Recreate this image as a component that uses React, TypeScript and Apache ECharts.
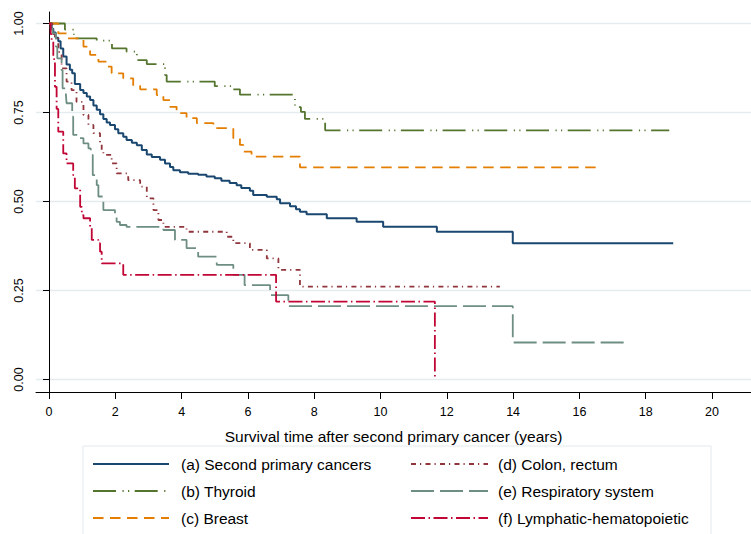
import React, { useEffect, useRef } from "react";
import * as echarts from "echarts";

const FONT = "'Liberation Sans', Arial, Helvetica, sans-serif";

const xTicks = [0, 2, 4, 6, 8, 10, 12, 14, 16, 18, 20];
const yTicks = [0, 0.25, 0.5, 0.75, 1];
const xTitle = "Survival time after second primary cancer (years)";

const seriesNames = [
  "(a) Second primary cancers",
  "(b) Thyroid",
  "(c) Breast",
  "(d) Colon, rectum",
  "(e) Respiratory system",
  "(f) Lymphatic-hematopoietic",
];

const secondPrimary: [number, number][] = [
  [0, 1], [0.08, 0.985], [0.13, 0.975], [0.2, 0.96], [0.28, 0.95], [0.35, 0.93], [0.43, 0.907],
  [0.53, 0.885], [0.63, 0.87], [0.7, 0.86], [0.78, 0.83], [0.94, 0.813], [1.04, 0.805],
  [1.14, 0.795], [1.24, 0.785], [1.34, 0.77], [1.44, 0.758], [1.54, 0.745], [1.64, 0.732],
  [1.74, 0.722], [1.84, 0.715], [1.99, 0.703], [2.09, 0.692], [2.24, 0.682], [2.34, 0.673],
  [2.5, 0.665], [2.65, 0.658], [2.8, 0.645], [2.95, 0.632], [3.1, 0.625], [3.35, 0.617],
  [3.5, 0.607], [3.65, 0.597], [3.75, 0.588], [3.95, 0.582], [4.2, 0.578], [4.5, 0.575],
  [4.75, 0.57], [5.0, 0.565], [5.2, 0.558], [5.45, 0.552], [5.66, 0.546], [5.8, 0.538],
  [6.06, 0.53], [6.16, 0.518], [6.57, 0.513], [6.87, 0.506], [6.97, 0.495], [7.27, 0.487],
  [7.45, 0.478], [7.57, 0.471], [7.77, 0.464], [8.38, 0.453], [9.28, 0.443], [10.08, 0.429],
  [11.7, 0.415], [13.99, 0.383], [18.83, 0.383],
];

const thyroid: [number, number][] = [
  [0, 1], [0.48, 0.983], [0.75, 0.958], [1.44, 0.952], [1.9, 0.93], [2.34, 0.921],
  [2.65, 0.897], [2.95, 0.886], [3.5, 0.855], [3.55, 0.837], [5.0, 0.824], [5.56, 0.815],
  [5.76, 0.8], [7.42, 0.765], [7.6, 0.752], [7.72, 0.732], [8.33, 0.7], [18.71, 0.7],
];

const breast: [number, number][] = [
  [0, 1], [0.28, 0.972], [0.53, 0.958], [1.04, 0.935], [1.24, 0.912], [1.49, 0.893],
  [1.74, 0.879], [1.89, 0.86], [2.24, 0.846], [2.54, 0.825], [2.75, 0.815], [3.25, 0.799],
  [3.45, 0.785], [3.65, 0.766], [3.85, 0.748], [4.15, 0.734], [4.46, 0.72], [4.96, 0.706],
  [5.56, 0.678], [5.76, 0.659], [5.86, 0.64], [6.11, 0.626], [7.57, 0.596], [16.64, 0.596],
];

const colonRectum: [number, number][] = [
  [0, 1], [0.1, 0.97], [0.18, 0.958], [0.28, 0.92], [0.38, 0.874], [0.53, 0.837],
  [0.68, 0.813], [0.83, 0.78], [1.04, 0.743], [1.19, 0.715], [1.34, 0.692], [1.54, 0.663],
  [1.59, 0.64], [1.64, 0.631], [1.89, 0.607], [2.04, 0.579], [2.39, 0.56], [2.75, 0.542],
  [2.95, 0.509], [3.15, 0.476], [3.3, 0.448], [3.45, 0.429], [4.15, 0.415], [5.36, 0.401],
  [5.56, 0.383], [6.06, 0.364], [6.57, 0.34], [6.92, 0.308], [7.57, 0.261], [13.6, 0.261],
];

const respiratory: [number, number][] = [
  [0, 1], [0.05, 0.985], [0.11, 0.972], [0.21, 0.935], [0.25, 0.902], [0.38, 0.869],
  [0.41, 0.818], [0.51, 0.799], [0.53, 0.776], [0.7, 0.738], [0.73, 0.687], [0.88, 0.678],
  [1.04, 0.663], [1.19, 0.649], [1.26, 0.631], [1.32, 0.574], [1.44, 0.546], [1.49, 0.514],
  [1.64, 0.476], [1.99, 0.457], [2.04, 0.443], [2.14, 0.434], [2.34, 0.429], [3.45, 0.42],
  [3.8, 0.392], [4.15, 0.369], [4.5, 0.345], [5.06, 0.322], [5.56, 0.294], [5.9, 0.265],
  [6.67, 0.237], [7.22, 0.206], [13.99, 0.104], [17.48, 0.104],
];

const lymphatic: [number, number][] = [
  [0, 1], [0.05, 0.97], [0.08, 0.95], [0.13, 0.9], [0.18, 0.822], [0.23, 0.76], [0.28, 0.696],
  [0.43, 0.635], [0.53, 0.607], [0.73, 0.574], [0.78, 0.537], [0.94, 0.485], [0.99, 0.462],
  [1.04, 0.453], [1.24, 0.425], [1.29, 0.392], [1.49, 0.383], [1.54, 0.359], [1.59, 0.326],
  [2.24, 0.294], [6.85, 0.219], [11.64, 0],
];

const seriesData = [secondPrimary, thyroid, breast, colonRectum, respiratory, lymphatic];
const colors = ["#1a476f", "#55752f", "#e37e00", "#90353b", "#6e8e84", "#c10534"];
const dashes: (string | number[])[] = [
  "solid",
  [23, 6.5, 1.2, 4.3, 1.2, 5.5],
  [10.5, 6.5],
  [5, 4, 1.2, 4.3],
  [23, 6],
  [14, 3.5, 1.5, 3.5],
];
const widths = [2, 1.8, 1.8, 1.8, 1.8, 1.8];

export default function App() {
  const ref = useRef<HTMLDivElement>(null);
  useEffect(() => {
    const chart = echarts.init(ref.current!, null, { renderer: "svg" });
    const legendText = {
      fontSize: 15.5,
      lineHeight: 16,
      color: "#000",
      fontFamily: FONT,
    };
    const legendBase = {
      orient: "vertical",
      top: 456,
      height: 80,
      padding: 0,
      itemHeight: 10,
      itemGap: 11,
      selectedMode: false,
      itemStyle: { opacity: 0 },
    };
    chart.setOption({
      animation: false,
      backgroundColor: "#fff",
      textStyle: { fontFamily: FONT },
      grid: { left: 36, right: 0, top: 12, bottom: 142, containLabel: false },
      xAxis: {
        type: "value",
        min: -0.392,
        max: 21.176,
        axisLine: { show: true, onZero: false, lineStyle: { color: "#000", width: 1 } },
        axisTick: { show: true, customValues: xTicks, length: 7, lineStyle: { color: "#000" } },
        axisLabel: {
          customValues: xTicks,
          margin: 13,
          verticalAlign: "top",
          fontSize: 12.5,
          color: "#000",
          fontFamily: FONT,
        },
        splitLine: { show: false },
        name: xTitle,
        nameLocation: "middle",
        nameGap: 36,
        nameTextStyle: { fontSize: 15.5, color: "#000", fontFamily: FONT },
      },
      yAxis: {
        type: "value",
        min: -0.0351,
        max: 1.0323,
        axisLine: { show: true, lineStyle: { color: "#000", width: 1 } },
        axisTick: { show: true, customValues: yTicks, length: 6, lineStyle: { color: "#000" } },
        axisLabel: {
          customValues: yTicks,
          rotate: 90,
          margin: 11,
          fontSize: 12.5,
          color: "#000",
          fontFamily: FONT,
          formatter: (v: number) => v.toFixed(2),
        },
        splitLine: { show: true, lineStyle: { color: "#e5ecf0", width: 1.3 } },
      },
      graphic: [
        {
          type: "rect",
          shape: { x: 83, y: 446, width: 628, height: 110 },
          style: { fill: "#fff", stroke: "#e3eaee", lineWidth: 1 },
          z: 1,
        },
      ],
      legend: [
        {
          ...legendBase,
          data: seriesNames.slice(0, 3),
          left: 92,
          itemWidth: 76,
          textStyle: { ...legendText, padding: [0, 0, 0, 7] },
        },
        {
          ...legendBase,
          data: seriesNames.slice(3),
          left: 410,
          itemWidth: 77,
          textStyle: { ...legendText, padding: [0, 0, 0, 5] },
        },
      ],
      series: seriesData.map((d, i) => ({
        type: "line",
        name: seriesNames[i],
        data: d,
        step: "end",
        symbol: "none",
        showSymbol: false,
        itemStyle: { color: colors[i] },
        lineStyle: { color: colors[i], width: widths[i], type: dashes[i] },
      })),
    });
    return () => chart.dispose();
  }, []);
  return (
    <div
      ref={ref}
      style={{ position: "fixed", left: 0, top: 0, width: 751, height: 534 }}
    />
  );
}
